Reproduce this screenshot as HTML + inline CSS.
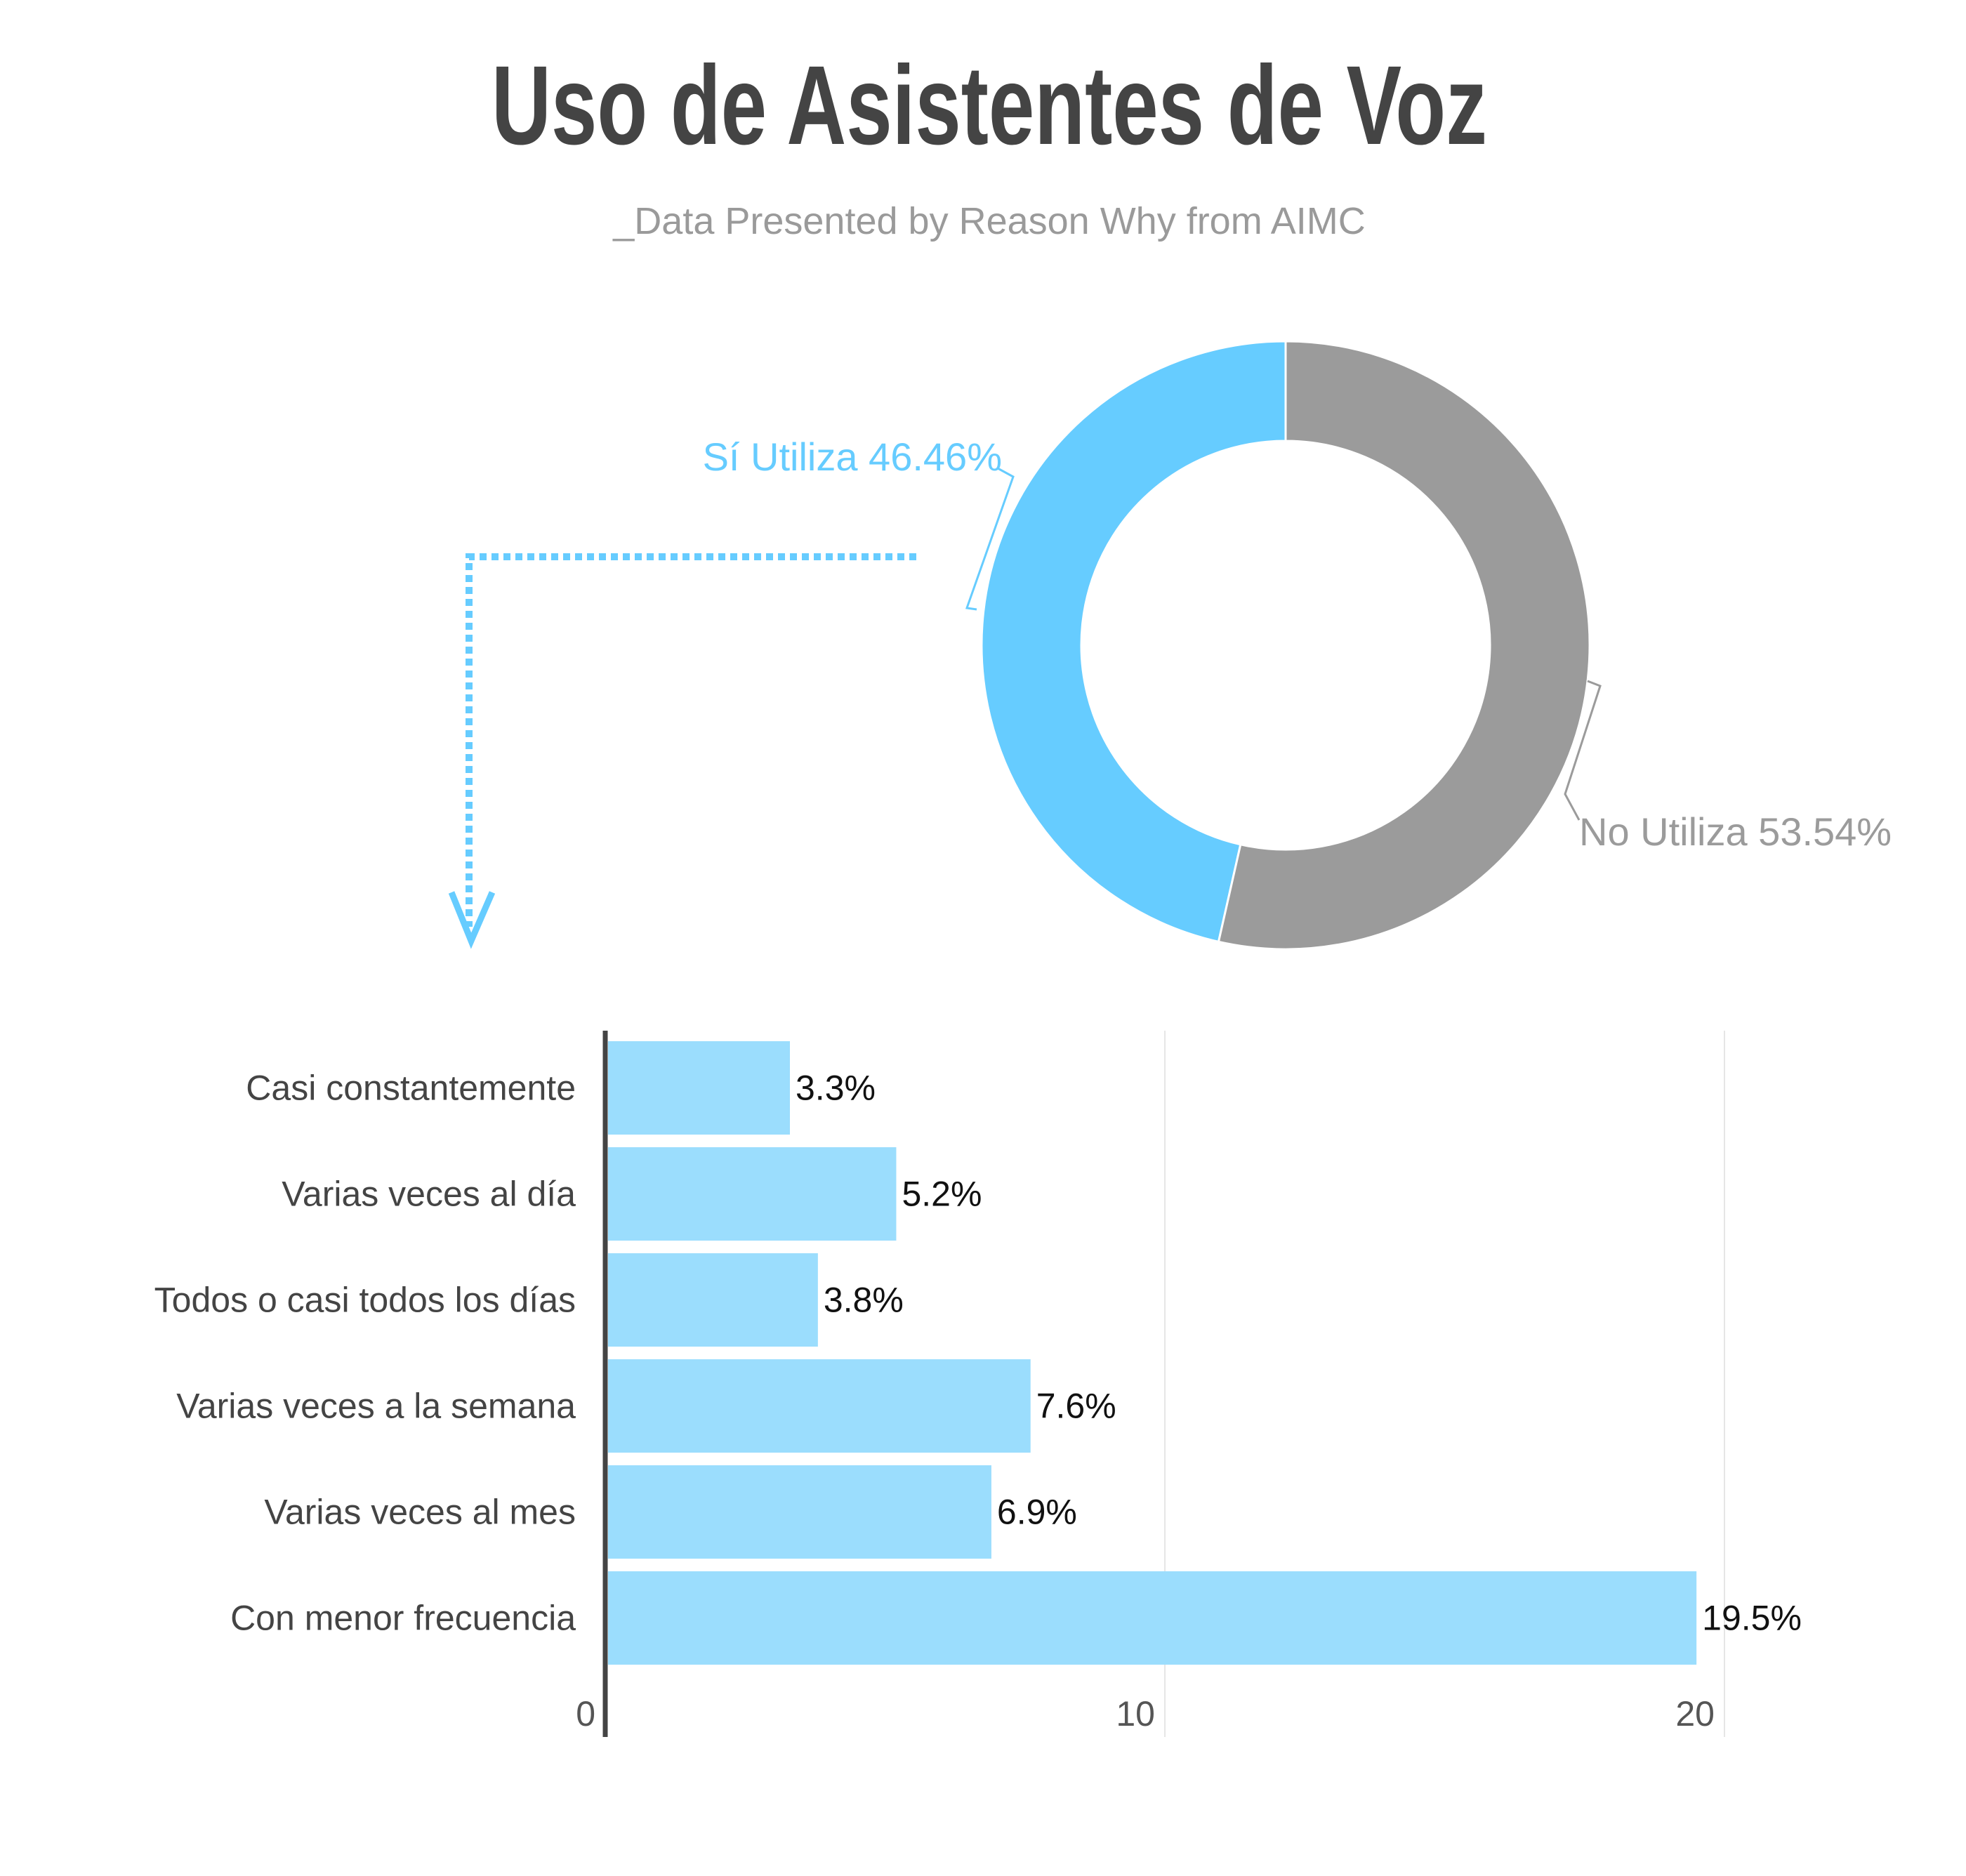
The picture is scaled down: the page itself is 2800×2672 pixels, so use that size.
<!DOCTYPE html>
<html><head><meta charset="utf-8"><style>
html,body{margin:0;padding:0;background:#fff;}
svg{display:block;}
text{font-family:"Liberation Sans",sans-serif;}
</style></head><body>
<svg id="root" width="2800" height="2672" viewBox="0 0 2800 2672" xmlns="http://www.w3.org/2000/svg">
<text x="1409" y="205" text-anchor="middle" font-size="160" font-weight="bold" fill="#444" transform="translate(1409,0) scale(0.735,1) translate(-1409,0)">Uso de Asistentes de Voz</text>
<text x="1409" y="333" text-anchor="middle" font-size="54" fill="#9a9a9a">_Data Presented by Reason Why from AIMC</text>
<g id="donut"></g>
<g>
<path d="M1305 793 H668 V1320" fill="none" stroke="#66ccff" stroke-width="10" stroke-dasharray="10 7"/>
<path d="M643 1271 L671 1340 L701 1271" fill="none" stroke="#66ccff" stroke-width="9"/>
</g>
<g id="bars"></g>
</svg>
<script>
const pieLabels = ["Sí Utiliza", "No Utiliza"];
const pieValues = [46.46, 53.54];
const categories = ["Casi constantemente","Varias veces al día","Todos o casi todos los días","Varias veces a la semana","Varias veces al mes","Con menor frecuencia"];
const values = [3.3, 5.2, 3.8, 7.6, 6.9, 19.5];
const ticks = [0, 10, 20];

const NS = "http://www.w3.org/2000/svg";
function mk(tag, attrs, parent){ const e=document.createElementNS(NS,tag); for(const k in attrs) e.setAttribute(k,attrs[k]); parent.appendChild(e); return e; }

// Donut
const donut = document.getElementById('donut');
const cx=1831, cy=919, R=433, r=291;
const colors=["#66ccff","#9b9b9b"];
const total = pieValues.reduce((a,b)=>a+b,0);
function pt(rad, a){ return [cx+rad*Math.sin(a), cy-rad*Math.cos(a)]; }
const segs=[{dir:-1},{dir:1}];
pieValues.forEach((v,i)=>{
  const sweep = v/total*2*Math.PI;
  const a0 = 0, a1 = segs[i].dir*sweep;
  const p0=pt(R,a0), p1=pt(R,a1), q1=pt(r,a1), q0=pt(r,a0);
  const large = sweep>Math.PI?1:0;
  const sf = segs[i].dir>0?1:0;
  const d=`M${p0[0]} ${p0[1]} A${R} ${R} 0 ${large} ${sf} ${p1[0]} ${p1[1]} L${q1[0]} ${q1[1]} A${r} ${r} 0 ${large} ${1-sf} ${q0[0]} ${q0[1]} Z`;
  const p=mk('path',{d:d,fill:colors[i],stroke:'#fff','stroke-width':3},donut);
  
  
});
const l1=mk('path',{d:'M1421 667 L1443 679 L1377 866 L1391 868',fill:'none',stroke:'#66ccff','stroke-width':3},donut);


const t1=mk('text',{x:1427,y:670,'text-anchor':'end','font-size':56,fill:'#66ccff'},donut);
t1.textContent = pieLabels[0]+' '+pieValues[0].toFixed(2)+'%';


const l2=mk('path',{d:'M2261 970 L2279 977 L2229 1131 L2249 1168',fill:'none',stroke:'#9b9b9b','stroke-width':3},donut);


const t2=mk('text',{x:2249,y:1204,'font-size':56,fill:'#9b9b9b'},donut);
t2.textContent = pieLabels[1]+' '+pieValues[1].toFixed(2)+'%';



// Bars
const bars=document.getElementById('bars');
const x0=862, unit=79.7, plotTop=1468, plotBottom=2474, rowTop=1483, rowStep=151, barH=133;
const X=v=>x0+v*unit;
ticks.forEach(t=>{
  if(t>0){ const g=mk('line',{x1:X(t),x2:X(t),y1:plotTop,y2:plotBottom,stroke:'#e6e6e6','stroke-width':2},bars);
    
     }
  const tl=mk('text',{x:X(t)-14,y:2458,'text-anchor':'end','font-size':50,fill:'#555'},bars);
  tl.textContent=t;
  
  
});
categories.forEach((c,i)=>{
  const y=rowTop+i*rowStep;
  const b=mk('rect',{x:x0+4,y:y,width:X(values[i])-x0-4,height:barH,fill:'#9bddfd'},bars);
  
  
  const cl=mk('text',{x:820,y:y+barH/2+17,'text-anchor':'end','font-size':50,fill:'#444'},bars);
  cl.textContent=c;
  
  
  const vl=mk('text',{x:X(values[i])+8,y:y+barH/2+17,'font-size':50,fill:'#111'},bars);
  vl.textContent=values[i].toFixed(1)+'%';
  
  
});
const ax=mk('line',{x1:x0,x2:x0,y1:plotTop,y2:plotBottom,stroke:'#444','stroke-width':7},bars);


</script>
</body></html>
